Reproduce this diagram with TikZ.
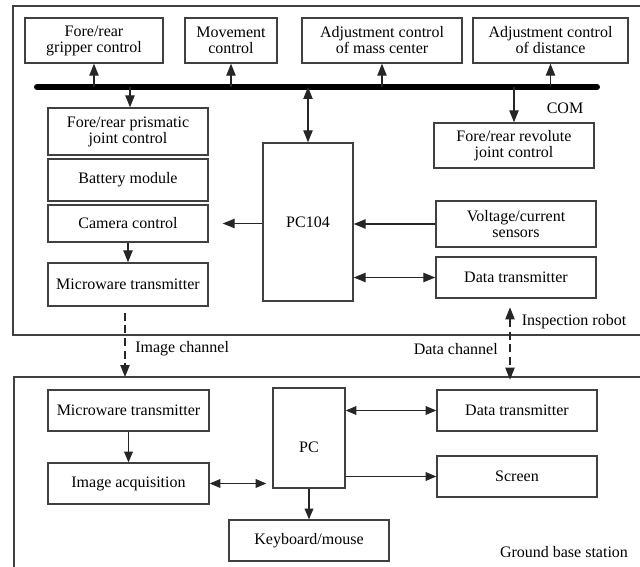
\documentclass[tikz,border=0pt]{standalone}
\usepackage{fontspec}
\setmainfont{Liberation Serif}
\usetikzlibrary{arrows.meta}
\begin{document}
\begin{tikzpicture}[x=0.75pt,y=-0.75pt,
  font=\fontsize{12}{12}\selectfont,
  box/.style 2 args={draw=black!75, line width=1pt, align=center, inner sep=1pt,
    minimum width=#1*0.75pt, minimum height=#2*0.75pt},
  conn/.style={draw=black!85, line width=0.9pt},
  arr/.style={conn, -{Triangle[length=9pt,width=7pt]}},
  darr/.style={conn, {Triangle[length=9pt,width=7pt]}-{Triangle[length=9pt,width=7pt]}},
  arrs/.style={conn, -{Triangle[length=8pt,width=6.5pt]}},
  darrs/.style={conn, {Triangle[length=8pt,width=6.5pt]}-{Triangle[length=8pt,width=6.5pt]}},
  frame/.style={draw=black!75, line width=1pt},
  lbl/.style={inner sep=0pt}]
\useasboundingbox (0,0) rectangle (640,567);
% frames
\draw[frame] (640,6) -- (13,6) -- (13,335) -- (640,335);
\draw[frame] (640,377) -- (14,377) -- (14,567);
% bus
\coordinate (busL) at (37,87);
\coordinate (busR) at (597,87);
\draw[line width=4.5pt, line cap=round] (busL) -- (busR);
% top boxes
\node[box={138}{45}] (grip) at (94,40.5) {Fore/rear\\gripper control};
\node[box={92}{45}] (move) at (231,40.5) {Movement\\control};
\node[box={160}{45}] (mass) at (382,40.5) {Adjustment control\\of mass center};
\node[box={155}{45}] (dist) at (550.5,40.5) {Adjustment control\\of distance};
\node[box={160}{47}] (pris) at (128,131.5) {Fore/rear prismatic\\joint control};
\node[box={160}{45}] (revo) at (514,145.5) {Fore/rear revolute\\joint control};
\node[box={160}{42}] (batt) at (128,180) {Battery module};
\node[box={160}{37}] (cam) at (128,223.5) {Camera control};
\node[box={160}{43}] (mwt1) at (128,284.5) {Microware transmitter};
\node[box={90}{158}] (pc104) at (308,222) {PC104};
\node[box={160}{46}] (volt) at (516,224) {Voltage/current\\sensors};
\node[box={160}{41}] (dt1) at (516,277.5) {Data transmitter};
% bottom boxes
\node[box={161}{41}] (mwt2) at (128.5,410.5) {Microware transmitter};
\node[box={161}{41}] (img) at (128.5,483.5) {Image acquisition};
\node[box={72}{100}] (pc) at (309,438) {\raisebox{-10.5pt}[0pt][0pt]{PC}};
\node[box={160}{41}] (kb) at (309,540.5) {Keyboard/mouse};
\node[box={160}{41}] (dt2) at (517,410.5) {Data transmitter};
\node[box={160}{41}] (scr) at (517,476.5) {Screen};
% bus connectors
\draw[arr] (grip.south |- busL) -- (grip.south);
\draw[arr] (move.south |- busL) -- (move.south);
\draw[arr] (mass.south |- busL) -- (mass.south);
\draw[arr] (dist.south |- busL) -- (dist.south);
\draw[arr] ([xshift=1.5pt]pris.north |- busL) -- ([xshift=1.5pt]pris.north);
\draw[darr] (pc104.north |- busL) -- (pc104.north);
\draw[arr] (revo.north |- busL) -- (revo.north);
% top connectors
\draw[arr] (cam) -- (mwt1);
\draw[arr, shorten >=10.5pt] (pc104.west |- cam) -- (cam.east);
\draw[arr] (volt.west) -- (pc104.east |- volt.west);
\draw[darr] (pc104.east |- dt1.west) -- (dt1.west);
% channels
\coordinate (ic) at (125,377);
\coordinate (dc) at (510,377);
\draw[arr, dashed, dash pattern=on 6pt off 3.5pt, shorten <=4.5pt] (mwt1.south -| ic) -- (ic);
\draw[darr, dashed, dash pattern=on 6pt off 3.5pt, shorten <=6.5pt, shorten >=-2pt] (dt1.south -| dc) -- (dc);
% bottom connectors
\draw[arrs] (mwt2) -- (img);
\draw[darrs, shorten >=4.5pt] (img.east) -- (pc.west |- img.east);
\draw[darrs] (pc.east |- dt2.west) -- (dt2.west);
\draw[arrs] (pc.east |- scr.west) -- (scr.west);
\draw[arrs] (pc.south) -- (kb.north);
% labels
\node[lbl] (com) at (565,108) {COM};
\node[lbl] (ir) at (574,322) {Inspection robot};
\node[lbl, anchor=west] (ich) at (135,349) {Image channel};
\node[lbl, anchor=east] (dch) at (498,349) {Data channel};
\node[lbl] (gbs) at (564,552) {Ground base station};
\end{tikzpicture}
\end{document}
